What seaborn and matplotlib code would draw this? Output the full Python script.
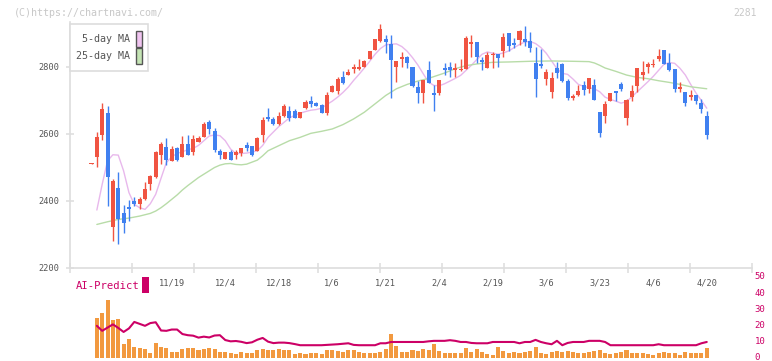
import numpy as np
import pandas as pd
import matplotlib
matplotlib.use("Agg")
import matplotlib.pyplot as plt
from matplotlib.patches import Rectangle
from matplotlib.transforms import ScaledTranslation
import seaborn as sns

# ---------------- data ----------------
opens = [2510,2532,2597,2663,2323,2439,2364,2382,2400,2391,
         2406,2451,2471,2537,2561,2520,2557,2531,2570,2545,
         2575,2592,2636,2608,2549,2525,2546,2538,2544,2567,
         2564,2550,2597,2650,2645,2630,2654,2669,2669,2649,
         2677,2698,2692,2687,2664,2725,2728,2770,2776,2795,
         2795,2801,2825,2851,2879,2884,2869,2801,2825,2830,
         2800,2740,2723,2791,2722,2723,2797,2800,2791,2791,
         2795,2870,2875,2822,2798,2836,2839,2848,2900,2871,
         2880,2884,2878,2813,2810,2764,2725,2797,2809,2758,
         2708,2716,2746,2734,2746,2666,2654,2699,2728,2749,
         2648,2710,2743,2776,2800,2805,2824,2851,2812,2794,
         2735,2725,2710,2716,2692,2654]
highs = [2513,2605,2692,2684,2465,2487,2388,2403,2411,2411,
         2457,2477,2550,2577,2588,2564,2560,2594,2596,2596,
         2594,2635,2643,2618,2555,2547,2552,2552,2559,2577,
         2565,2590,2650,2678,2652,2666,2690,2684,2675,2667,
         2700,2713,2695,2690,2725,2746,2771,2788,2793,2808,
         2824,2821,2849,2885,2928,2896,2896,2818,2845,2833,
         2801,2758,2761,2818,2745,2762,2813,2815,2812,2824,
         2893,2896,2876,2831,2844,2844,2840,2900,2901,2886,
         2910,2922,2904,2860,2854,2794,2785,2815,2813,2764,
         2719,2746,2759,2768,2764,2667,2699,2722,2729,2755,
         2704,2746,2797,2818,2815,2824,2854,2852,2842,2795,
         2755,2726,2731,2717,2704,2669]
lows = [2510,2500,2582,2385,2282,2271,2304,2340,2385,2375,
        2403,2433,2468,2510,2507,2518,2519,2531,2537,2537,
        2575,2592,2599,2546,2526,2524,2522,2524,2535,2549,
        2533,2550,2577,2640,2628,2628,2652,2640,2647,2647,
        2676,2680,2684,2663,2658,2724,2719,2748,2775,2783,
        2791,2800,2824,2850,2876,2843,2708,2756,2801,2796,
        2741,2694,2694,2752,2670,2717,2776,2771,2771,2789,
        2794,2831,2811,2791,2797,2797,2801,2831,2848,2858,
        2865,2863,2845,2710,2798,2746,2707,2767,2755,2701,
        2701,2713,2716,2722,2700,2591,2633,2698,2697,2728,
        2627,2699,2725,2761,2782,2800,2818,2810,2788,2725,
        2725,2683,2701,2690,2663,2585]
closes = [2513,2591,2674,2473,2461,2346,2335,2377,2392,2406,
          2436,2475,2546,2570,2522,2554,2522,2570,2537,2584,
          2587,2631,2615,2553,2537,2546,2523,2546,2559,2559,
          2538,2588,2642,2645,2630,2654,2684,2649,2649,2666,
          2696,2690,2685,2664,2716,2743,2763,2751,2786,2799,
          2800,2818,2848,2884,2913,2876,2821,2818,2830,2813,
          2744,2723,2761,2753,2717,2761,2791,2791,2797,2795,
          2887,2875,2831,2816,2836,2840,2828,2890,2863,2867,
          2907,2876,2857,2765,2804,2785,2767,2782,2758,2707,
          2713,2728,2731,2767,2701,2603,2690,2722,2723,2734,
          2701,2728,2797,2785,2809,2810,2833,2810,2791,2735,
          2741,2692,2716,2699,2675,2597]

# 5-day moving average, read for days 1..115
ma5 = [2373,2450,2520,2538,2537,2490,2425,2390,2380,2375,
       2392,2420,2468,2515,2532,2542,2547,2553,2557,2566,
       2580,2594,2597,2595,2580,2555,2542,2542,2543,2546,
       2550,2566,2590,2606,2622,2635,2648,2656,2662,2667,
       2671,2673,2677,2688,2698,2710,2724,2740,2760,2778,
       2797,2817,2838,2855,2866,2868,2869,2861,2847,2828,
       2806,2780,2755,2745,2744,2750,2758,2766,2775,2790,
       2805,2822,2838,2845,2841,2838,2842,2848,2858,2867,
       2875,2876,2870,2858,2841,2818,2795,2781,2778,2764,
       2748,2742,2738,2735,2726,2710,2703,2698,2692,2697,
       2711,2726,2741,2756,2772,2790,2808,2813,2811,2796,
       2776,2748,2722,2700,2677]

# 25-day moving average, read at selected days
ma25_day = [1,3,5,7,9,11,12,13,14,15,16,17,18,19,20,21,22,23,24,25,26,27,28,29,30,
            31,32,33,35,37,39,41,43,45,47,49,51,53,55,57,59,61,63,66,68,70,72,75,78,
            82,86,90,93,94,95,96,98,100,102,104,106,108,110,112,114,115]
ma25 = [2330,2338,2345,2349,2355,2363,2370,2380,2392,2405,2418,2433,2446,2458,2470,
        2480,2490,2500,2507,2511,2512,2509,2508,2510,2516,2522,2535,2550,2565,2580,
        2590,2602,2608,2615,2628,2645,2665,2690,2715,2735,2748,2758,2766,2782,2795,
        2804,2809,2814,2815,2817,2818,2817,2816,2812,2805,2797,2787,2776,2769,2765,
        2759,2754,2748,2741,2737,2735]

# AI-Predict panel, days 1..115
ai_bars = [24.8,28.0,36.0,23.6,24.2,8.7,11.8,7.2,6.2,5.6,
           3.1,9.3,6.8,6.2,3.7,3.7,5.6,6.2,6.2,5.0,
           5.6,6.2,5.6,3.7,3.7,3.1,2.5,3.7,3.1,3.1,
           5.0,5.6,5.0,5.0,5.6,5.0,5.0,2.5,3.1,2.5,
           3.1,3.1,2.5,5.0,5.0,4.3,3.7,5.0,5.0,3.7,
           3.1,3.1,3.1,3.7,5.6,14.9,7.5,3.7,3.7,5.0,
           4.3,5.6,5.0,8.7,4.3,3.1,3.1,3.1,3.1,6.2,
           3.7,5.6,3.7,2.5,1.9,6.8,4.3,3.1,3.7,3.1,
           3.7,4.3,6.8,3.1,2.5,3.7,4.3,3.7,4.3,3.7,
           3.1,3.1,3.7,4.3,5.0,3.1,2.5,3.1,3.7,5.0,
           3.1,3.1,3.1,2.5,1.9,3.1,3.7,3.1,3.1,1.9,
           3.7,3.1,3.1,3.1,6.2]
ai_line = [20.1,17.0,19.0,21.0,18.8,16.3,18.5,22.5,21.3,20.1,
           21.8,22.3,17.2,17.0,17.8,17.8,15.0,14.3,14.0,12.8,
           13.4,12.9,14.1,14.3,11.3,10.5,10.7,10.2,9.4,9.9,
           11.5,12.6,10.3,9.4,9.7,9.7,9.4,8.8,8.1,8.1,
           8.1,8.1,8.1,8.3,8.5,8.7,9.0,9.3,8.3,8.1,
           8.1,8.1,8.1,9.3,9.3,10.1,10.1,10.1,10.1,10.1,
           10.1,10.1,10.5,10.8,10.8,10.8,11.2,10.8,10.1,10.1,
           9.5,9.3,9.3,9.3,10.1,10.1,10.1,10.1,10.1,9.3,
           10.1,10.1,11.4,10.1,9.3,8.7,10.8,8.1,9.5,10.1,
           10.1,10.1,10.8,10.8,10.8,10.1,8.1,8.1,8.1,8.1,
           8.1,8.1,8.1,8.1,8.1,8.7,8.1,8.1,8.1,8.1,
           8.1,8.1,8.1,9.3,10.1]

date_labels = ["11/19", "12/4", "12/18", "1/6", "1/21", "2/4", "2/19", "3/6", "3/23", "4/6", "4/20"]
date_label_day = [15, 25, 35, 45, 55, 65, 75, 85, 95, 105, 115]
price_ticks = [2200, 2400, 2600, 2800]
ai_ticks = [0, 10, 20, 30, 40, 50]
legend_labels = ["5-day MA", "25-day MA"]

# ---------------- style ----------------
RED = "#f05442"
BLUE = "#4080f0"
PINK = "#e8b8ec"
GREEN = "#b8dca8"
ORANGE = "#f2993f"
CRIMSON = "#cc0066"
AXIS = "#dddddd"
TXT = "#555555"

sns.set_theme(style="white")
plt.rcParams['font.family'] = ['DejaVu Sans Mono', 'DejaVu Sans']

W, H = 772, 361
fig = plt.figure(figsize=(W / 100, H / 100), dpi=100)
fig.patch.set_facecolor("white")


def rect(l, t, r, b):
    return [l / W, 1 - b / H, (r - l) / W, (b - t) / H]


def fx(px):
    return px / W


def fy(py):
    return 1 - py / H


ax = fig.add_axes(rect(70, 22, 752, 268.3))
ax2 = fig.add_axes(rect(70, 277.5, 752, 358.3))

x0 = -(91.5 - 70) / 5.35
x1 = (752 - 91.5) / 5.35

# ---------------- candles ----------------
o = np.array(opens, float)
c = np.array(closes, float)
hi = np.array(highs, float)
lo = np.array(lows, float)
days = np.arange(len(c))
cols = np.where(c >= o, RED, BLUE)

ma_days = np.arange(1, len(ma5) + 1)
sns.lineplot(x=ma_days, y=ma5, ax=ax, color=PINK, linewidth=1.0, legend=False, zorder=2)
sns.lineplot(x=ma25_day, y=ma25, ax=ax, color=GREEN, linewidth=1.0, legend=False, zorder=2)

ax.vlines(days, lo, hi, colors=cols, linewidth=1.0, zorder=3)
ax.bar(days, np.maximum(np.abs(c - o), 4), bottom=np.minimum(o, c), width=0.75,
       color=cols, linewidth=0, zorder=4)

ax.set_xlim(x0, x1)
ax.set_ylim(2199.1, 2934.3)
ax.set_facecolor("white")
for s in ["top", "right"]:
    ax.spines[s].set_visible(False)
for s in ["left", "bottom"]:
    ax.spines[s].set_color(AXIS)
    ax.spines[s].set_linewidth(1.2)

ax.set_xticks(np.linspace(x0, x1, 12))
ax.set_xticklabels([])
ax.set_xticks(date_label_day, minor=True)
ax.set_xticklabels(date_labels, minor=True)
ax.tick_params(axis="x", which="major", bottom=True, direction="inout", length=6.5,
               width=1.1, color=AXIS)
ax.tick_params(axis="x", which="minor", bottom=True, length=0, pad=7.3,
               labelsize=6.2, labelcolor=TXT)
ax.set_yticks(price_ticks)
ax.set_yticklabels([str(v) for v in price_ticks])
ax.tick_params(axis="y", which="major", left=True, direction="inout", length=5.8,
               width=1.1, color=AXIS, pad=4.6, labelsize=6.2, labelcolor=TXT)
ax.set_xlabel("")
ax.set_ylabel("")
ax.grid(False)

# ---------------- legend box (drawn by hand to match the reference) ----------------
fig.add_artist(Rectangle((fx(70), fy(71)), 78 / W, 47 / H, transform=fig.transFigure,
                         facecolor="white", edgecolor=AXIS, linewidth=1.2, zorder=10))
swatch_fill = ["#f0c4f0", "#c4e4b4"]
swatch_top = [31.0, 48.3]
for lab, fc, top in zip(legend_labels, swatch_fill, swatch_top):
    fig.add_artist(Rectangle((fx(136.2), fy(top + 15.5)), 6.3 / W, 15.5 / H,
                             transform=fig.transFigure, facecolor=fc, edgecolor=TXT,
                             linewidth=1.0, zorder=11))
    fig.text(fx(130), fy(top + 7.8), lab, fontsize=7.2, color=TXT, ha="right",
             va="center", zorder=12)

# ---------------- AI-Predict panel ----------------
ai_days = np.arange(1, len(ai_bars) + 1)
df_ai = pd.DataFrame({"day": ai_days, "bar": ai_bars, "line": ai_line})
sns.barplot(data=df_ai, x="day", y="bar", ax=ax2, native_scale=True, width=0.75,
            color=ORANGE, saturation=1, errorbar=None, linewidth=0)
sns.lineplot(data=df_ai, x="day", y="line", ax=ax2, color=CRIMSON, linewidth=1.5,
             legend=False)
ax2.set_xlim(x0, x1)
ax2.set_ylim(0, 50)
ax2.set_facecolor("none")
for s in ax2.spines.values():
    s.set_visible(False)
ax2.set_xticks([])
ax2.yaxis.tick_right()
ax2.set_yticks(ai_ticks)
ax2.set_yticklabels([str(v) for v in ai_ticks])
ax2.tick_params(axis="y", length=0, pad=2, labelsize=6.5, labelcolor=CRIMSON, right=True, left=False)
shift_up = ScaledTranslation(0, 1.6 / 100, fig.dpi_scale_trans)
for lbl in ax2.get_yticklabels():
    lbl.set_transform(lbl.get_transform() + shift_up)
ax2.set_xlabel("")
ax2.set_ylabel("")
ax2.grid(False)

# ---------------- header / labels ----------------
fig.text(fx(14), fy(12.5), "(C)https://chartnavi.com/", fontsize=7.2,
         color="#c8c8c8", ha="left", va="center")
fig.text(fx(757), fy(12.5), "2281", fontsize=7.0, color="#c8c8c8",
         ha="right", va="center")
fig.text(fx(76), fy(286), "AI-Predict", fontsize=7.6, color=CRIMSON,
         ha="left", va="center")
fig.add_artist(Rectangle((fx(142.3), fy(292.7)), 6.4 / W, 16 / H,
                         transform=fig.transFigure, facecolor=CRIMSON, edgecolor="none"))

fig.savefig("out.png", dpi=100)
